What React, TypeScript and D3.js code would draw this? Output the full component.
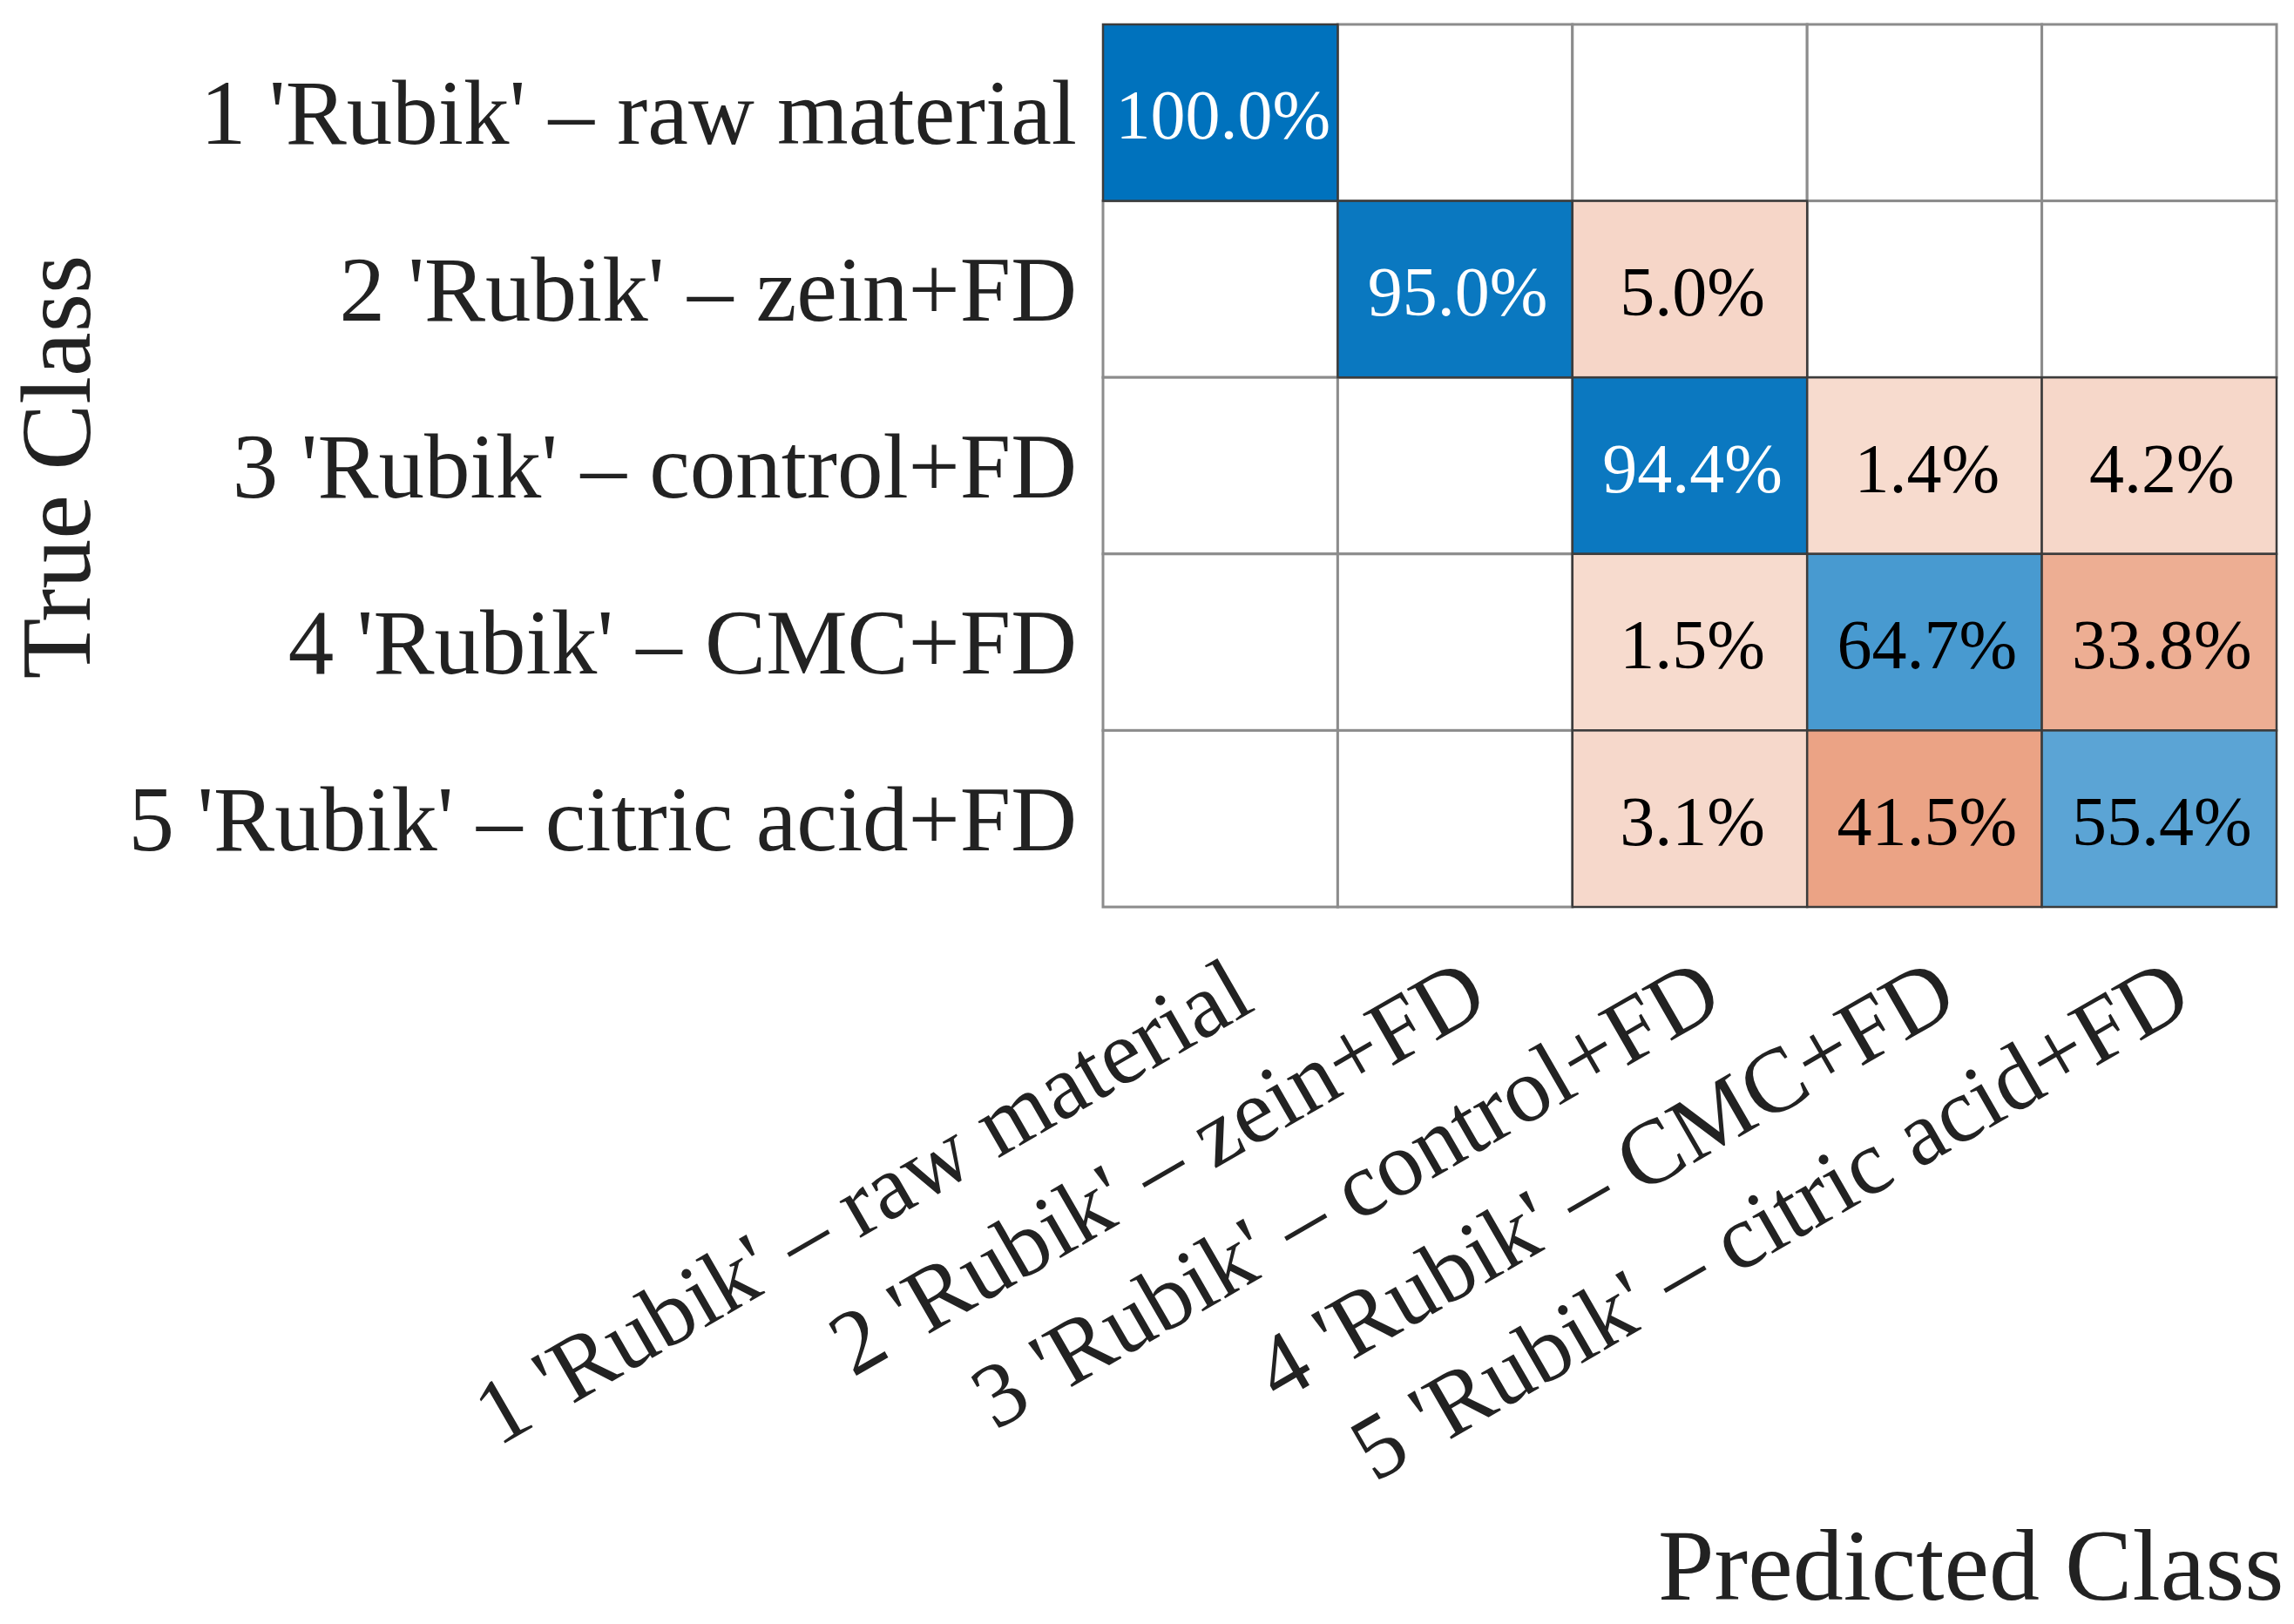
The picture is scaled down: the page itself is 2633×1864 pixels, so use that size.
import React from "react";
import * as d3 from "d3";

const classes = [
  "1 'Rubik' – raw material",
  "2 'Rubik' – zein+FD",
  "3 'Rubik' – control+FD",
  "4 'Rubik' – CMC+FD",
  "5 'Rubik' – citric acid+FD",
];

// row-normalised percentages (true class rows x predicted class columns)
const row1 = [100.0, 0, 0, 0, 0];
const row2 = [0, 95.0, 5.0, 0, 0];
const row3 = [0, 0, 94.4, 1.4, 4.2];
const row4 = [0, 0, 1.5, 64.7, 33.8];
const row5 = [0, 0, 3.1, 41.5, 55.4];
const matrix = [row1, row2, row3, row4, row5];

const xTitle = "Predicted Class";
const yTitle = "True Class";

const W = 2633;
const H = 1864;
const FONT = "'Liberation Serif', 'Times New Roman', serif";

export default function App() {
  const x = d3.scaleBand<string>().domain(classes).range([1266, 2613]);
  const y = d3.scaleBand<string>().domain(classes).range([28, 1041]);
  const alpha = d3.scaleLinear().domain([0, 100]).range([0.2, 1]);
  const diagColor = d3.interpolateRgb("#ffffff", "#0072bd");
  const offColor = d3.interpolateRgb("#ffffff", "#d95319");

  const cells: any[] = [];
  matrix.forEach((row, i) => {
    row.forEach((v, j) => {
      cells.push({ i, j, v });
    });
  });

  const cw = x.bandwidth();
  const ch = y.bandwidth();

  return (
    <svg
      width={W}
      height={H}
      style={{ position: "absolute", left: 0, top: 0, background: "#fff" }}
      fontFamily={FONT}
    >
      {/* empty cells */}
      {cells
        .filter((c) => c.v <= 0)
        .map((c) => (
          <rect
            key={`e${c.i}-${c.j}`}
            x={x(classes[c.j])}
            y={y(classes[c.i])}
            width={cw}
            height={ch}
            fill="#ffffff"
            stroke="#8c8c8c"
            strokeWidth={3}
          />
        ))}
      {/* filled cells */}
      {cells
        .filter((c) => c.v > 0)
        .map((c) => {
          const a = alpha(c.v);
          const fill = c.i === c.j ? diagColor(a) : offColor(a);
          return (
            <rect
              key={`f${c.i}-${c.j}`}
              x={x(classes[c.j])}
              y={y(classes[c.i])}
              width={cw}
              height={ch}
              fill={fill}
              stroke="#3c3c3c"
              strokeWidth={2.5}
            />
          );
        })}
      {/* cell values */}
      {cells
        .filter((c) => c.v > 0)
        .map((c) => {
          const a = alpha(c.v);
          return (
            <text
              key={`t${c.i}-${c.j}`}
              x={(x(classes[c.j]) as number) + cw / 2 + 3}
              y={(y(classes[c.i]) as number) + ch / 2 + 30}
              textAnchor="middle"
              fontSize={80}
              fill={a > 0.85 ? "#ffffff" : "#000000"}
            >
              {c.v.toFixed(1) + "%"}
            </text>
          );
        })}
      {/* y tick labels */}
      {classes.map((c) => (
        <text
          key={`y${c}`}
          x={1236}
          y={(y(c) as number) + ch / 2 + 36}
          textAnchor="end"
          fontSize={105}
          fill="#222"
        >
          {c}
        </text>
      ))}
      {/* x tick labels */}
      {classes.map((c) => {
        const ax = (x(c) as number) + cw / 2 + 42;
        const ay = 1158;
        return (
          <text
            key={`x${c}`}
            transform={`translate(${ax},${ay}) rotate(-30)`}
            textAnchor="end"
            fontSize={105}
            fill="#222"
          >
            {c}
          </text>
        );
      })}
      {/* axis titles */}
      <text x={1903} y={1836} fontSize={116} fill="#222">
        {xTitle}
      </text>
      <text
        transform={`translate(103,536) rotate(-90)`}
        textAnchor="middle"
        fontSize={114}
        fill="#222"
      >
        {yTitle}
      </text>
    </svg>
  );
}
